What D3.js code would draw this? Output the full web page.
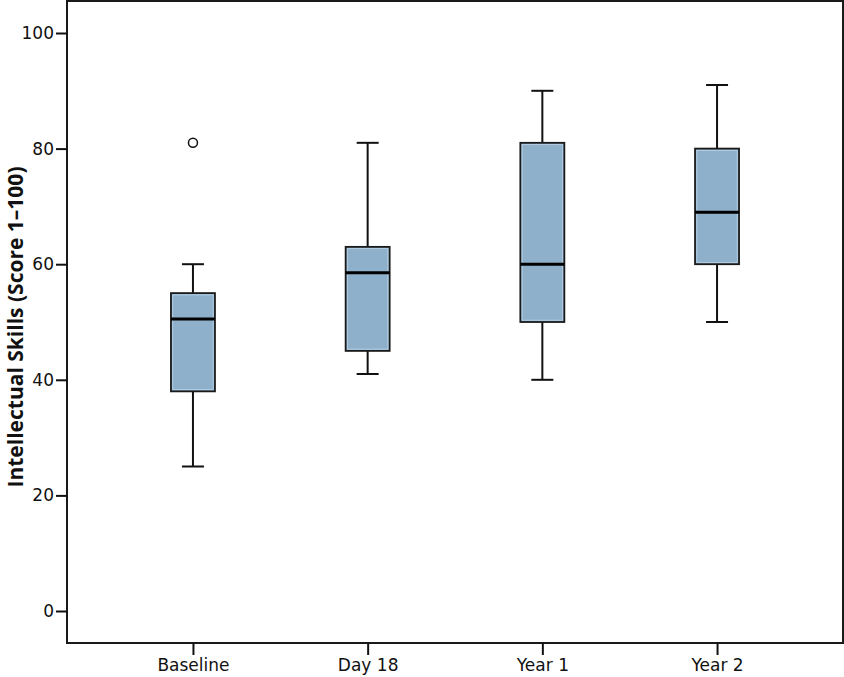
<!DOCTYPE html>
<html lang="en">
	<head>
		<meta charset="utf-8">
		<title>intellectual skills boxplot</title>
		<script type="text/javascript" src="https://cdn.jsdelivr.net/npm/d3@7"></script>
		<style type="text/css">
			body{ margin: 0; background: #fff; }
		</style>
	</head>
	<body>
	<script type="text/javascript">

			// data
			var groups   = ["Baseline", "Day 18", "Year 1", "Year 2"];
			var whiskLo  = [25, 41, 40, 50];
			var q1       = [38, 45, 50, 60];
			var median   = [50.5, 58.5, 60, 69];
			var q3       = [55, 63, 81, 80];
			var whiskHi  = [60, 81, 90, 91];
			var outliers = [[81], [], [], []];
			var yTicks   = [0, 20, 40, 60, 80, 100];
			var yTitle   = "Intellectual Skills (Score 1\u2013100)";

			var w = 844, h = 677;
			// (window.top is read-only, so not "top")
			var pLeft = 67, pRight = 843, pTop = 1, pBottom = 643;
			var boxW = 44, capW = 22;
			var font = "'DejaVu Sans', sans-serif";

			var xScale = d3.scalePoint()
						   .domain(groups)
						   .range([pLeft, pRight])
						   .padding(0.721);

			var yScale = d3.scaleLinear()
						   .domain([0, 100])
						   .range([611, 33]);

			var svg = d3.select("body")
						.append("svg")
						.attr("width", w)
						.attr("height", h);

			var stats = groups.map(function(g, i) {
				return {g: g, lo: whiskLo[i], q1: q1[i], med: median[i], q3: q3[i], hi: whiskHi[i], out: outliers[i]};
			});

			var box = svg.selectAll("g.box")
						 .data(stats)
						 .enter()
						 .append("g")
						 .attr("class", "box")
						 .attr("transform", function(d) { return "translate(" + xScale(d.g) + ",0)"; });

			// whiskers
			box.append("line")
			   .attr("x1", 0).attr("x2", 0)
			   .attr("y1", function(d) { return yScale(d.hi); })
			   .attr("y2", function(d) { return yScale(d.q3); })
			   .attr("stroke", "#111").attr("stroke-width", 2);
			box.append("line")
			   .attr("x1", 0).attr("x2", 0)
			   .attr("y1", function(d) { return yScale(d.q1); })
			   .attr("y2", function(d) { return yScale(d.lo); })
			   .attr("stroke", "#111").attr("stroke-width", 2);
			box.selectAll("line.cap")
			   .data(function(d) { return [d.lo, d.hi]; })
			   .enter()
			   .append("line")
			   .attr("class", "cap")
			   .attr("x1", -capW / 2).attr("x2", capW / 2)
			   .attr("y1", function(v) { return yScale(v); })
			   .attr("y2", function(v) { return yScale(v); })
			   .attr("stroke", "#111").attr("stroke-width", 2);

			// box
			box.append("rect")
			   .attr("x", -boxW / 2)
			   .attr("width", boxW)
			   .attr("y", function(d) { return yScale(d.q3); })
			   .attr("height", function(d) { return yScale(d.q1) - yScale(d.q3); })
			   .attr("fill", "#8fb0ca")
			   .attr("stroke", "#1a1a1a")
			   .attr("stroke-width", 1.8);
			// light inner edge
			box.append("rect")
			   .attr("x", -boxW / 2 + 1.8)
			   .attr("width", boxW - 3.6)
			   .attr("y", function(d) { return yScale(d.q3) + 1.8; })
			   .attr("height", function(d) { return yScale(d.q1) - yScale(d.q3) - 3.6; })
			   .attr("fill", "none")
			   .attr("stroke", "#b9d2e6")
			   .attr("stroke-width", 0.8);

			// median
			box.append("line")
			   .attr("x1", -boxW / 2).attr("x2", boxW / 2)
			   .attr("y1", function(d) { return yScale(d.med); })
			   .attr("y2", function(d) { return yScale(d.med); })
			   .attr("stroke", "#000").attr("stroke-width", 3);

			// outliers
			box.selectAll("circle")
			   .data(function(d) { return d.out; })
			   .enter()
			   .append("circle")
			   .attr("cx", 0)
			   .attr("cy", function(v) { return yScale(v); })
			   .attr("r", 4.5)
			   .attr("fill", "#fff")
			   .attr("stroke", "#111")
			   .attr("stroke-width", 1.5);

			// frame
			svg.append("rect")
			   .attr("x", pLeft).attr("y", pTop)
			   .attr("width", pRight - pLeft)
			   .attr("height", pBottom - pTop)
			   .attr("fill", "none")
			   .attr("stroke", "#1a1a1a")
			   .attr("stroke-width", 2);

			// axes
			var yAxis = d3.axisLeft(yScale).tickValues(yTicks).tickSize(11).tickPadding(2);
			var gy = svg.append("g").attr("transform", "translate(" + pLeft + ",0)").call(yAxis);
			gy.select(".domain").remove();

			var xAxis = d3.axisBottom(xScale).tickSize(12).tickPadding(4);
			var gx = svg.append("g").attr("transform", "translate(0," + pBottom + ")").call(xAxis);
			gx.select(".domain").remove();

			svg.selectAll(".tick line").attr("stroke", "#111").attr("stroke-width", 2);
			svg.selectAll(".tick text")
			   .attr("font-family", font)
			   .attr("font-size", "17px")
			   .attr("fill", "#111");

			// y title
			svg.append("text")
			   .attr("transform", "translate(23,327) rotate(-90)")
			   .attr("text-anchor", "middle")
			   .attr("font-family", "'Open Sans', sans-serif")
			   .attr("font-weight", "bold")
			   .attr("font-size", "21px")
			   .attr("fill", "#111")
			   .text(yTitle);

		</script>
	</body>
</html>
